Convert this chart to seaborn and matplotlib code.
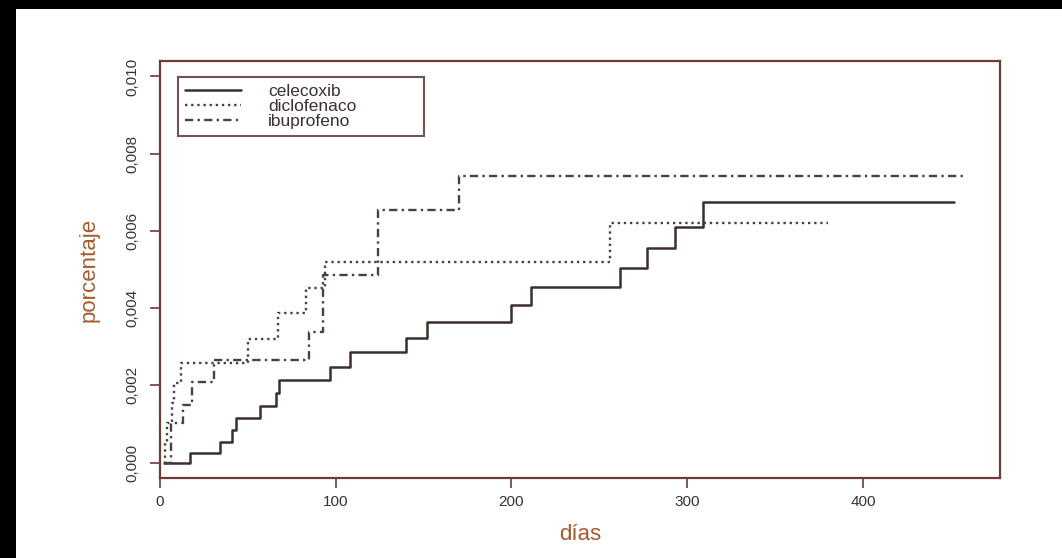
import matplotlib
matplotlib.use('Agg')
import matplotlib.pyplot as plt
from matplotlib.patches import Rectangle
import seaborn as sns

# datos (dias, porcentaje acumulado)
farmacos = ['celecoxib', 'diclofenaco', 'ibuprofeno']

celecoxib_dias = [2, 17, 34, 41, 43, 57, 66, 68, 97, 108, 140, 152, 200, 211, 262, 277, 293, 309, 452]
celecoxib_pct = [0.0, 0.00026, 0.00054, 0.00085, 0.00116, 0.00147, 0.00180, 0.00214, 0.00248, 0.00287,
                 0.00323, 0.00364, 0.00408, 0.00454, 0.00503, 0.00555, 0.00609, 0.00674, 0.00674]

diclofenaco_dias = [2, 3, 4, 7, 8, 12, 50, 67, 83, 94, 256, 380]
diclofenaco_pct = [0.0, 0.00052, 0.00103, 0.00155, 0.00206, 0.00258, 0.00320, 0.00387, 0.00452, 0.00519,
                   0.00620, 0.00620]

ibuprofeno_dias = [2, 6, 13, 18, 31, 85, 93, 124, 170, 458]
ibuprofeno_pct = [0.0, 0.00103, 0.00150, 0.00209, 0.00266, 0.00338, 0.00485, 0.00653, 0.00743, 0.00743]

x_ticks = [0, 100, 200, 300, 400]
y_ticks = [0.000, 0.002, 0.004, 0.006, 0.008, 0.010]
y_tick_labels = ['0,000', '0,002', '0,004', '0,006', '0,008', '0,010']

series = {
    'celecoxib': (celecoxib_dias, celecoxib_pct),
    'diclofenaco': (diclofenaco_dias, diclofenaco_pct),
    'ibuprofeno': (ibuprofeno_dias, ibuprofeno_pct),
}
estilos = {
    'celecoxib': ('#3d2e2e', '-', 1.8),
    'diclofenaco': ('#4a4040', (0, (1, 1.6)), 1.7),
    'ibuprofeno': ('#4a4040', (0, (3.5, 1.8, 1, 1.8)), 1.7),
}

sns.set_theme(style='white')
plt.rcParams['font.family'] = ['Liberation Sans', 'DejaVu Sans']

borde = '#6e3b36'
texto = '#3b3030'
naranja = '#a65a2c'

fig = plt.figure(figsize=(10.62, 5.58), dpi=100, facecolor='black')
fig.add_artist(Rectangle((16 / 1062, 0), 1, 549 / 558, transform=fig.transFigure,
                         facecolor='white', edgecolor='none', zorder=-10))
ax = fig.add_axes([160 / 1062, 80 / 558, 840 / 1062, 417 / 558])
ax.set_facecolor('white')

for nombre in farmacos:
    dias, pct = series[nombre]
    color, ls, lw = estilos[nombre]
    sns.lineplot(x=dias, y=pct, ax=ax, drawstyle='steps-post', estimator=None, sort=False,
                 color=color, linestyle=ls, linewidth=lw, label=nombre)

ax.set_xlim(0, 478)
ax.set_ylim(-0.0004, 0.0104)
ax.set_xticks(x_ticks)
ax.set_xticklabels([str(t) for t in x_ticks])
ax.set_yticks(y_ticks)
ax.set_yticklabels(y_tick_labels, rotation=90, va='center')

ax.tick_params(axis='both', direction='out', length=7, width=1.2, color=borde,
               labelcolor=texto, labelsize=11, left=True, bottom=True)
ax.tick_params(axis='x', pad=5)
ax.tick_params(axis='y', pad=8)

for sp in ax.spines.values():
    sp.set_color(borde)
    sp.set_linewidth(1.6)
    sp.set_visible(True)

ax.set_xlabel('días', fontsize=16, color=naranja)
ax.set_ylabel('porcentaje', fontsize=16, color=naranja)
ax.xaxis.set_label_coords(0.5, -0.110)
ax.yaxis.set_label_coords(-0.072, 0.5)

handles, labels = ax.get_legend_handles_labels()
leg = ax.legend(handles, labels, loc='upper left',
                bbox_to_anchor=(18 / 840, (401 - 65) / 417, 246 / 840, 65 / 417),
                mode='expand', borderaxespad=0, frameon=True, fancybox=False,
                fontsize=12.5, handlelength=3.2, handletextpad=1.6, borderpad=0.4,
                labelspacing=0.0)
leg.get_frame().set_edgecolor('#4a2a28')
leg.get_frame().set_linewidth(1.5)
for t in leg.get_texts():
    t.set_color(texto)

fig.savefig('out.png', dpi=100, facecolor=fig.get_facecolor())
